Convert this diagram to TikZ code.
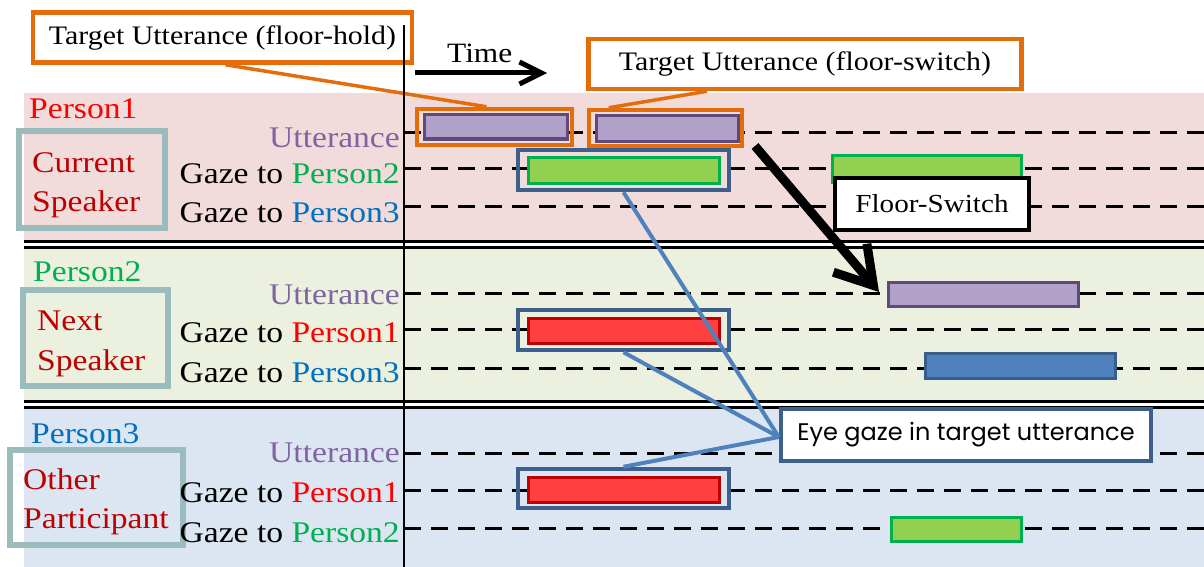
\documentclass[tikz,border=0pt]{standalone}
\usepackage{fontspec}
\setmainfont{Liberation Serif}[FakeStretch=1.12]
\newfontfamily\gothic{Poppins}
\usetikzlibrary{arrows.meta,calc}
\definecolor{bgpink}{RGB}{242,220,219}
\definecolor{bggreen}{RGB}{235,241,222}
\definecolor{bgblue}{RGB}{220,230,242}
\definecolor{tealbox}{RGB}{155,187,188}
\definecolor{orng}{RGB}{228,108,10}
\definecolor{purfill}{RGB}{177,160,199}
\definecolor{purdraw}{RGB}{95,73,122}
\definecolor{grnfill}{RGB}{146,208,80}
\definecolor{grndraw}{RGB}{0,176,80}
\definecolor{redfill}{RGB}{255,64,64}
\definecolor{reddraw}{RGB}{192,0,0}
\definecolor{blufill}{RGB}{79,129,189}
\definecolor{bludraw}{RGB}{56,93,138}
\definecolor{gazebox}{RGB}{60,95,140}
\definecolor{conblue}{RGB}{79,129,189}
\definecolor{pone}{RGB}{255,0,0}
\definecolor{ptwo}{RGB}{0,176,80}
\definecolor{pthree}{RGB}{0,112,192}
\definecolor{utt}{RGB}{128,100,162}
\definecolor{rolec}{RGB}{192,0,0}
\newcommand{\rnode}[6]{\node[#2, minimum width={#5-#3}, minimum height={#6-#4}] (#1) at ({(#3+#5)/2},{(#4+#6)/2}) {};}
\newcommand{\lblsize}{\fontsize{30}{36}\selectfont}
\tikzset{
  bar/.style={rectangle, inner sep=0pt, outer sep=0pt, line width=3pt},
  pur/.style={bar, fill=purfill, draw=purdraw},
  grn/.style={bar, fill=grnfill, draw=grndraw},
  red/.style={bar, fill=redfill, draw=reddraw},
  blu/.style={bar, fill=blufill, draw=bludraw},
  hl/.style={rectangle, inner sep=0pt, draw=orng, line width=4.5pt},
  gz/.style={rectangle, inner sep=0pt, draw=gazebox, line width=4.5pt},
  rolebox/.style={rectangle, inner sep=0pt, draw=tealbox, line width=6.5pt},
  lbl/.style={anchor=base east, inner sep=0pt, font=\lblsize},
  ltxt/.style={anchor=base west, inner sep=0pt, font=\lblsize},
  dline/.style={line width=3pt, dash pattern=on 17pt off 10pt},
  sep/.style={line width=3pt},
  orcon/.style={draw=orng, line width=3.5pt},
  blcon/.style={draw=conblue, line width=4pt},
}
\begin{document}
\begin{tikzpicture}[x=1pt,y=-1pt]
\useasboundingbox (0,0) rectangle (1204,567);
% bands
\fill[bgpink] (24,93) rectangle (1204,242);
\fill[bggreen] (24,247) rectangle (1204,402);
\fill[bgblue] (24,407) rectangle (1204,567);
\draw[sep] (24,241) -- (1204,241);
\draw[sep] (24,247.5) -- (1204,247.5);
\draw[sep] (24,401) -- (1204,401);
\draw[sep] (24,407.5) -- (1204,407.5);
% timelines
\foreach \yy in {133,168,206,293,329,368,453,490,528}
  \draw[dline] (404,\yy) -- (1204,\yy);
% bars
\rnode{pu1}{pur}{424}{115}{567}{139}
\rnode{pu2a}{pur}{596}{116}{738}{141}
\rnode{gA}{grn}{528}{157}{719}{183}
\rnode{gB}{grn}{832}{155}{1021}{182}
\rnode{pu2}{pur}{888}{282}{1078}{306}
\rnode{rA}{red}{528}{318}{719}{343}
\rnode{bA}{blu}{925}{353}{1115}{378}
\rnode{rB}{red}{528}{477}{719}{502}
\rnode{gC}{grn}{891}{517}{1021}{541}
% highlight boxes
\rnode{ob1}{hl}{417}{109}{572}{145}
\rnode{ob2}{hl}{589}{110}{742}{146}
\rnode{g1}{gz}{518}{150}{729}{190}
\rnode{g2}{gz}{518}{310}{729}{350}
\rnode{g3}{gz}{518}{469}{729}{508}
% role boxes
\rnode{rb1}{rolebox}{19}{131}{165}{228}
\rnode{rb2}{rolebox}{23}{290}{168}{386}
\rnode{rb3}{rolebox}{10}{450}{183}{545}
% person and role texts
\node[ltxt, text=pone] (n1) at (29,118) {Person1};
\node[ltxt, text=rolec] (c1) at (32,172) {Current};
\node[ltxt, text=rolec] (c2) at (32,211) {Speaker};
\node[ltxt, text=ptwo] (n2) at (33,281) {Person2};
\node[ltxt, text=rolec] (c3) at (37,330) {Next};
\node[ltxt, text=rolec] (c4) at (37,370) {Speaker};
\node[ltxt, text=pthree] (n3) at (31,443) {Person3};
\node[ltxt, text=rolec] (c5) at (23,489) {Other};
\node[ltxt, text=rolec] (c6) at (23,528) {Participant};
% row labels
\node[lbl, text=utt] (l1) at (400,147) {Utterance};
\node[lbl] (l2) at (400,183) {Gaze to \textcolor{ptwo}{Person2}};
\node[lbl] (l3) at (400,222) {Gaze to \textcolor{pthree}{Person3}};
\node[lbl, text=utt] (l4) at (400,304) {Utterance};
\node[lbl] (l5) at (400,342) {Gaze to \textcolor{pone}{Person1}};
\node[lbl] (l6) at (400,382) {Gaze to \textcolor{pthree}{Person3}};
\node[lbl, text=utt] (l7) at (400,462) {Utterance};
\node[lbl] (l8) at (400,502) {Gaze to \textcolor{pone}{Person1}};
\node[lbl] (l9) at (400,542) {Gaze to \textcolor{ptwo}{Person2}};
% title boxes
\node[hl, fill=white, minimum width=379pt, minimum height=50pt, font=\fontsize{26.7}{30}\selectfont] (th) at (222.5,37.5) {Target Utterance (floor-hold)};
\node[hl, fill=white, minimum width=433pt, minimum height=50pt, font=\fontsize{26.7}{30}\selectfont] (ts) at (805,64) {Target Utterance (floor-switch)};
% orange connectors
\draw[orcon] ([xshift=3pt]th.south) -- ([xshift=-8pt]ob1.north);
\draw[orcon] ([xshift=-98pt]ts.south) -- ([xshift=22pt]ob2.north west);
% time axis
\draw[line width=2pt] (404,25) -- (404,567);
\node[anchor=base west, inner sep=0pt, font=\fontsize{28}{32}\selectfont] (time) at (447,63) {Time};
\coordinate (t0) at (415,73);
\coordinate (t1) at (547,73);
\draw[line width=5pt, -{Straight Barb[length=22pt,width=22pt]}] (t0) -- (t1);
% floor switch arrow
\coordinate (fs0) at (755,146);
\draw[line width=9pt, -{Straight Barb[length=36pt,width=44pt]}] (fs0) -- ([xshift=-9pt,yshift=2pt]pu2.west);
\node[rectangle, draw=black, line width=4.5pt, fill=white, minimum width=194pt, minimum height=52pt, inner sep=0pt, font=\fontsize{26}{30}\selectfont] (fs) at (932,204) {Floor-Switch};
% eye gaze connectors
\node[gz, fill=white, minimum width=370pt, minimum height=52pt, font=\gothic\fontsize{24}{28}\selectfont] (eg) at (966,435) {Eye gaze in target utterance};
\draw[blcon] (g1.south) -- ([yshift=-2pt]eg.west);
\draw[blcon] (g2.south) -- ([yshift=-2pt]eg.west);
\draw[blcon] (g3.north) -- ([yshift=-2pt]eg.west);
\end{tikzpicture}
\end{document}
